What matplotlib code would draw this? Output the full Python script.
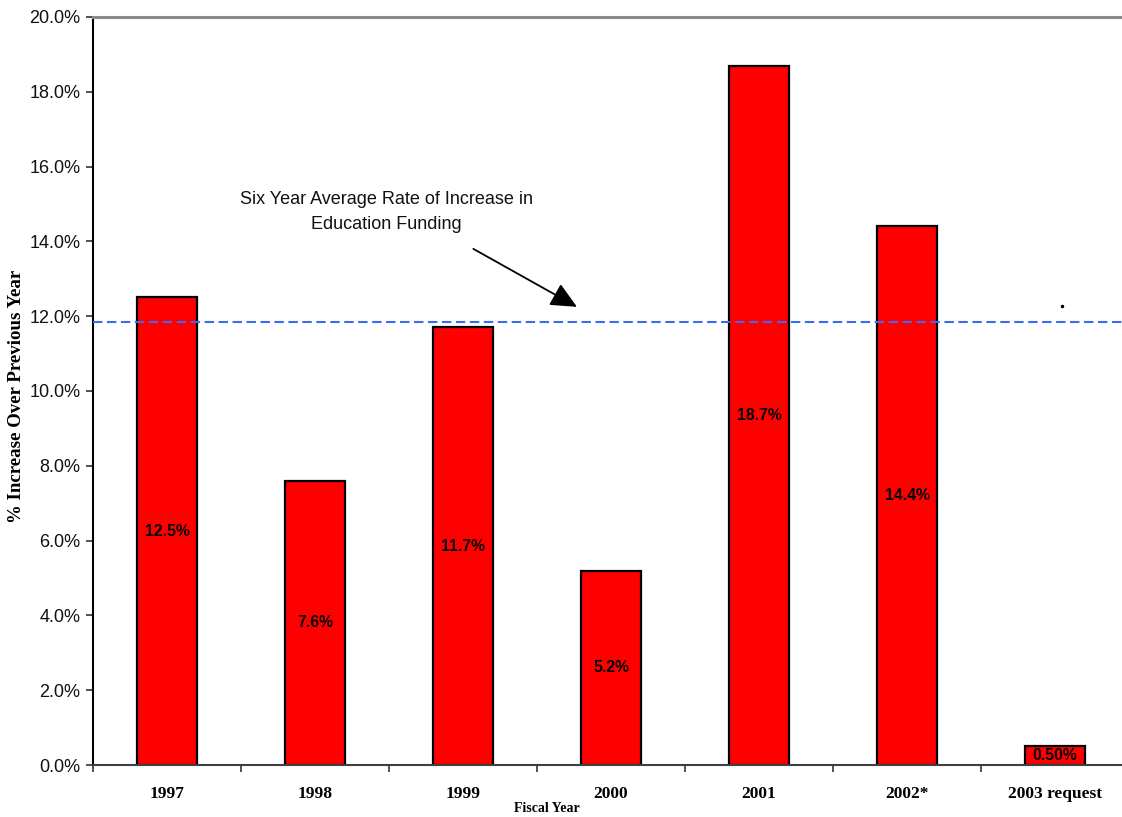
import matplotlib
matplotlib.use("Agg")
import matplotlib.pyplot as plt
from matplotlib.ticker import FuncFormatter, MultipleLocator

categories = ["1997", "1998", "1999", "2000", "2001", "2002*", "2003 request"]
values = [12.5, 7.6, 11.7, 5.2, 18.7, 14.4, 0.5]
bar_labels = ["12.5%", "7.6%", "11.7%", "5.2%", "18.7%", "14.4%", "0.50%"]
average_rate = 11.85
annotation_text = "Six Year Average Rate of Increase in\nEducation Funding"

SANS = "Liberation Sans"
SERIF = "Liberation Serif"

fig = plt.figure(figsize=(11.22, 8.17), dpi=100)
ax = fig.add_axes([93 / 1122, 1 - 765 / 817, 1036 / 1122, 748 / 817])

x = list(range(len(categories)))
ax.bar(x, values, width=0.405, color="#FF0000", edgecolor="black", linewidth=1.6, zorder=2)

for xi, v, lab in zip(x, values, bar_labels):
    ax.text(xi, v / 2, lab, ha="center", va="center", fontsize=11.3,
            fontweight="bold", family=SANS, color="black", zorder=4)

ax.axhline(average_rate, color="#3A6BF0", linewidth=1.5, dashes=(4.5, 2.2), zorder=3)

ax.annotate("", xy=(2.77, 12.25), xytext=(2.07, 13.8),
            arrowprops=dict(arrowstyle="-|>,head_length=1.6,head_width=0.75",
                            color="black", lw=1.3, shrinkA=0, shrinkB=0), zorder=5)
ax.text(1.48, 14.79, annotation_text, ha="center", va="center", fontsize=13,
        family=SANS, color="#111111", linespacing=1.6)

# stray mark
ax.plot([6.05], [12.27], marker="o", markersize=1.5, color="black")

ax.set_xlim(-0.5, len(categories) - 0.5)
ax.set_ylim(0, 20)
ax.yaxis.set_major_locator(MultipleLocator(2))
ax.yaxis.set_major_formatter(FuncFormatter(lambda v, p: f"{v:.1f}%"))

ax.set_xticks([i + 0.5 for i in range(-1, len(categories))])
ax.set_xticklabels([])
ax.set_xticks(x, minor=True)
ax.set_xticklabels(categories, minor=True, fontsize=12.5, fontweight="bold", family=SERIF)
ax.tick_params(axis="x", which="minor", length=0, pad=15)
ax.tick_params(axis="x", which="major", direction="out", length=5, width=1.2, color="#333333")
ax.tick_params(axis="y", direction="out", length=5, width=1.2, color="#333333",
               labelsize=13, pad=4)
for t in ax.get_yticklabels():
    t.set_family(SANS)
    t.set_color("#111111")

ax.spines["left"].set_color("black")
ax.spines["left"].set_linewidth(1.5)
ax.spines["bottom"].set_color("#404040")
ax.spines["bottom"].set_linewidth(1.5)
ax.spines["top"].set_color("#8a8a8a")
ax.spines["top"].set_linewidth(2.2)
ax.spines["right"].set_visible(False)

fig.text(17 / 1122, 1 - 396 / 817, "% Increase Over Previous Year", rotation=90,
         ha="center", va="center", fontsize=13.6, fontweight="bold", family=SERIF)
fig.text(547 / 1122, 1 - 808 / 817, "Fiscal Year", ha="center", va="center",
         fontsize=10, fontweight="bold", family=SERIF)

fig.savefig("out.png", dpi=100)
